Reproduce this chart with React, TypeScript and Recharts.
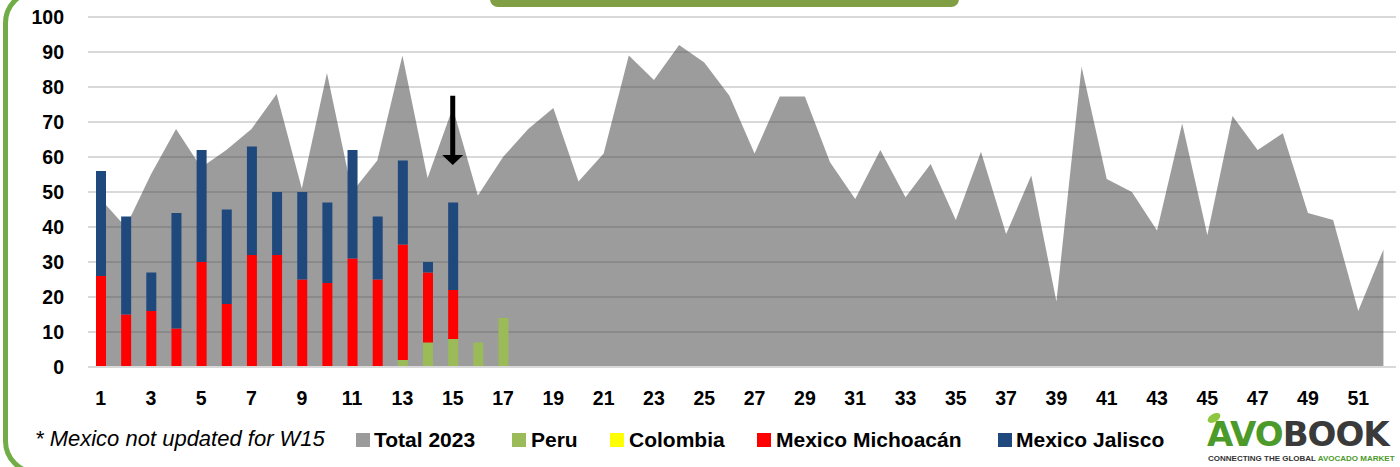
import React from 'react';
import { ComposedChart, Area, Bar, XAxis, YAxis, CartesianGrid, ReferenceLine } from 'recharts';

const weeks = [1, 2, 3, 4, 5, 6, 7, 8, 9, 10, 11, 12, 13, 14, 15, 16, 17, 18, 19, 20, 21, 22, 23, 24, 25, 26,
  27, 28, 29, 30, 31, 32, 33, 34, 35, 36, 37, 38, 39, 40, 41, 42, 43, 44, 45, 46, 47, 48, 49, 50, 51, 52];

const total2023 = [48, 40, 55, 68, 57, 62, 68, 78, 51, 84, 50, 59, 89, 54, 74, 49, 60, 68, 74, 53, 61, 89, 82, 92, 87, 77.5,
  61, 77.3, 77.3, 58.5, 48, 62, 48.5, 58, 42, 61.5, 38, 54.7, 18.7, 85.8, 53.7, 50, 39, 69.6, 37.7, 71.7, 62, 66.8, 44, 42, 16, 33.6];

const peru = [0, 0, 0, 0, 0, 0, 0, 0, 0, 0, 0, 0, 2, 7, 8, 7, 14];
const colombia = [0, 0, 0, 0, 0, 0, 0, 0, 0, 0, 0, 0, 0, 0, 0, 0, 0];
const michoacan = [26, 15, 16, 11, 30, 18, 32, 32, 25, 24, 31, 25, 33, 20, 14];
const jalisco = [30, 28, 11, 33, 32, 27, 31, 18, 25, 23, 31, 18, 24, 3, 25];

const yTicks = [0, 10, 20, 30, 40, 50, 60, 70, 80, 90, 100];

const arrowWeek = 15;
const arrowTop = 77.5;
const arrowTip = 57.7;

const legendItems = [
  { name: 'Total 2023', color: '#9B9B9B', sq: 356, tx: 374 },
  { name: 'Peru', color: '#9BBB59', sq: 512, tx: 531 },
  { name: 'Colombia', color: '#FFFF00', sq: 610, tx: 629 },
  { name: 'Mexico Michoacán', color: '#FF0000', sq: 757, tx: 776 },
  { name: 'Mexico Jalisco', color: '#1F497D', sq: 998, tx: 1016 },
];

const note = '* Mexico not updated for W15';

const data = weeks.map((w, i) => ({
  week: w,
  total: total2023[i],
  peru: peru[i] ?? null,
  colombia: colombia[i] ?? null,
  michoacan: michoacan[i] ?? null,
  jalisco: jalisco[i] ?? null,
}));

const FONT = '"Liberation Sans", Arial, sans-serif';

const ArrowShape = (p: any) => {
  const top = Math.min(p.y1, p.y2);
  const tip = Math.max(p.y1, p.y2);
  const x = p.x1;
  const head = 10;
  const hw = 10.5;
  const sw = 2.5;
  return (
    <g>
      <rect x={x - sw} y={top} width={sw * 2} height={tip - top - head + 1} fill="#000" />
      <path d={`M${x - hw},${tip - head} L${x + hw},${tip - head} L${x},${tip} Z`} fill="#000" />
    </g>
  );
};

export default function App() {
  return (
    <div style={{ position: 'absolute', left: 0, top: 0, width: 1400, height: 467, overflow: 'hidden', background: '#fff', fontFamily: FONT }}>
      <div style={{ position: 'absolute', left: 3, top: -11, width: 1600, height: 486, boxSizing: 'border-box', border: '5px solid #70AD47', borderRadius: 34 }} />
      <div style={{ position: 'absolute', left: 490, top: -20, width: 469, height: 27, background: '#809E43', borderRadius: 8 }} />
      <div style={{ position: 'absolute', left: 0, top: 0 }}>
        <ComposedChart width={1400} height={467} data={data} margin={{ top: 17, right: 4, bottom: 60, left: 0 }} barSize={10}>
          <CartesianGrid vertical={false} stroke="#D9D9D9" strokeWidth={2} />
          <XAxis
            dataKey="week"
            interval={1}
            height={40}
            axisLine={{ stroke: '#D9D9D9', strokeWidth: 2 }}
            tickLine={false}
            tickSize={0}
            tickMargin={24}
            tick={{ fill: '#000', fontSize: 19.5, fontWeight: 700, fontFamily: FONT }}
          />
          <YAxis
            domain={[0, 100]}
            ticks={yTicks}
            width={88}
            axisLine={false}
            tickLine={false}
            tickSize={0}
            tickMargin={24}
            tick={{ fill: '#000', fontSize: 19.5, fontWeight: 700, fontFamily: FONT }}
          />
          <Area dataKey="total" name="Total 2023" type="linear" stroke="none" fill="#444444" fillOpacity={0.53} isAnimationActive={false} />
          <Bar dataKey="peru" name="Peru" stackId="a" fill="#9BBB59" isAnimationActive={false} />
          <Bar dataKey="colombia" name="Colombia" stackId="a" fill="#FFFF00" isAnimationActive={false} />
          <Bar dataKey="michoacan" name="Mexico Michoacán" stackId="a" fill="#FF0000" isAnimationActive={false} />
          <Bar dataKey="jalisco" name="Mexico Jalisco" stackId="a" fill="#1F497D" isAnimationActive={false} />
          <ReferenceLine
            segment={[{ x: arrowWeek, y: arrowTop }, { x: arrowWeek, y: arrowTip }]}
            shape={ArrowShape}
          />
        </ComposedChart>
      </div>
      <div style={{ position: 'absolute', left: 35, top: 428, fontSize: 22, lineHeight: '22px', fontStyle: 'italic', color: '#000', whiteSpace: 'nowrap' }}>{note}</div>
      {legendItems.map((it) => (
        <React.Fragment key={it.name}>
          <div style={{ position: 'absolute', left: it.sq, top: 433, width: 14, height: 14, background: it.color }} />
          <div style={{ position: 'absolute', left: it.tx, top: 429, fontSize: 21, lineHeight: '21px', fontWeight: 700, color: '#000', whiteSpace: 'nowrap' }}>{it.name}</div>
        </React.Fragment>
      ))}
      <svg style={{ position: 'absolute', left: 1200, top: 410 }} width={30} height={16}>
        <ellipse cx={14} cy={8} rx={7} ry={4} transform="rotate(-30 14 8)" fill="#8DC63F" />
      </svg>
      <div style={{ position: 'absolute', left: 1207, top: 415, fontSize: 34, lineHeight: '38px', fontWeight: 700, fontFamily: '"DejaVu Sans", sans-serif', whiteSpace: 'nowrap', letterSpacing: -1 }}>
        <span style={{ color: '#4C9A2A' }}>AVO</span><span style={{ color: '#3A3A3A' }}>BOOK</span>
      </div>
      <div style={{ position: 'absolute', left: 1208, top: 454, fontSize: 8, lineHeight: '9px', fontWeight: 700, whiteSpace: 'nowrap' }}>
        <span style={{ color: '#333' }}>CONNECTING THE GLOBAL </span><span style={{ color: '#4C9A2A' }}>AVOCADO MARKET</span>
      </div>
    </div>
  );
}
